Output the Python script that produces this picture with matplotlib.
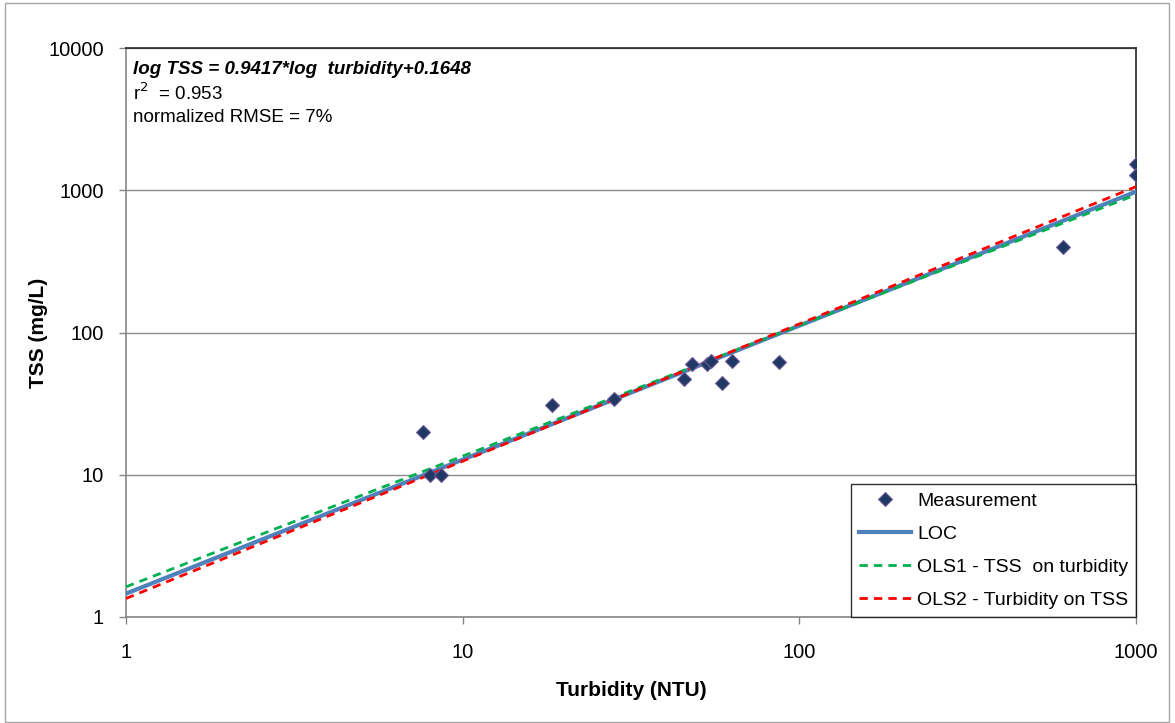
import matplotlib
matplotlib.use("Agg")
import matplotlib.pyplot as plt
from matplotlib.patches import Rectangle

plt.rcParams['font.family'] = ['Liberation Sans', 'DejaVu Sans']

turbidity = [7.6, 8.0, 8.6, 18.4, 28.2, 45.4, 48, 53, 54.5, 59, 63, 87, 605, 1000, 1000]
tss = [20, 9.9, 9.9, 31, 34, 47, 60, 60, 63, 44, 63, 62, 397, 1530, 1280]

# Fitted lines, values at the two ends of the x axis
line_x = [1, 1000]
loc_y = [1.46, 977]
ols1_y = [1.63, 930]
ols2_y = [1.35, 1060]

yticks = [1, 10, 100, 1000, 10000]
xticks = [1, 10, 100, 1000]

W, H = 1175, 723
fig = plt.figure(figsize=(W / 100, H / 100), dpi=100)
ax = fig.add_axes([126 / W, 1 - 617 / H, 1010 / W, 569 / H])

ax.set_xscale('log')
ax.set_yscale('log')

ax.plot(turbidity, tss, linestyle='none', marker='D', markersize=7,
        markerfacecolor='#1F3864', markeredgecolor='#6E5A9A', markeredgewidth=0.8,
        label='Measurement', zorder=5)
ax.plot(line_x, loc_y, color='#4F81BD', lw=3, label='LOC', zorder=3)
ax.plot(line_x, ols1_y, color='#00B050', lw=2, dashes=(3, 2.2), label='OLS1 - TSS  on turbidity', zorder=4)
ax.plot(line_x, ols2_y, color='#FF0000', lw=2, dashes=(3, 2.2), label='OLS2 - Turbidity on TSS', zorder=4)

ax.set_xlim(1, 1000)
ax.set_ylim(1, 10000)
ax.set_xticks(xticks)
ax.set_xticklabels([str(v) for v in xticks])
ax.set_yticks(yticks)
ax.set_yticklabels([str(v) for v in yticks])
ax.minorticks_off()
ax.tick_params(axis='x', direction='out', length=5, width=1, color='#868686', pad=14, labelsize=14.5)
ax.tick_params(axis='y', direction='out', length=5, width=1, color='#868686', pad=11, labelsize=14.5)

ax.yaxis.grid(True, color='#8C8C8C', lw=1)
ax.set_axisbelow(True)
for s in ['left', 'bottom']:
    ax.spines[s].set_color('#868686')
    ax.spines[s].set_linewidth(1.2)
for s in ['top', 'right']:
    ax.spines[s].set_color('#262626')
    ax.spines[s].set_linewidth(1.2)

ax.text(0.007, 0.963, 'log TSS = 0.9417*log  turbidity+0.1648', transform=ax.transAxes,
        fontsize=13.5, fontweight='bold', fontstyle='italic', va='center', ha='left')
ax.text(0.007, 0.921, 'r$^{2}$  = 0.953', transform=ax.transAxes, fontsize=13.5, va='center', ha='left')
ax.text(0.007, 0.877, 'normalized RMSE = 7%', transform=ax.transAxes, fontsize=13.5, va='center', ha='left')

leg = ax.legend(loc='lower right', bbox_to_anchor=(1, 0), borderaxespad=0, fontsize=14,
                frameon=True, fancybox=False, edgecolor='black', numpoints=1,
                handlelength=2.7, handletextpad=0.3, labelspacing=0.8, borderpad=0.4)
leg.get_frame().set_linewidth(1)

fig.text(631 / W, 1 - 690 / H, 'Turbidity (NTU)', ha='center', va='center', fontsize=15, fontweight='bold')
fig.text(38 / W, 1 - 333 / H, 'TSS (mg/L)', ha='center', va='center', rotation=90, fontsize=15, fontweight='bold')

fig.patches.append(Rectangle((5 / W, 1 / H), 1164 / W, 719 / H, transform=fig.transFigure,
                             fill=False, edgecolor='#A6A6A6', lw=1))

fig.savefig('out.png', dpi=100)
